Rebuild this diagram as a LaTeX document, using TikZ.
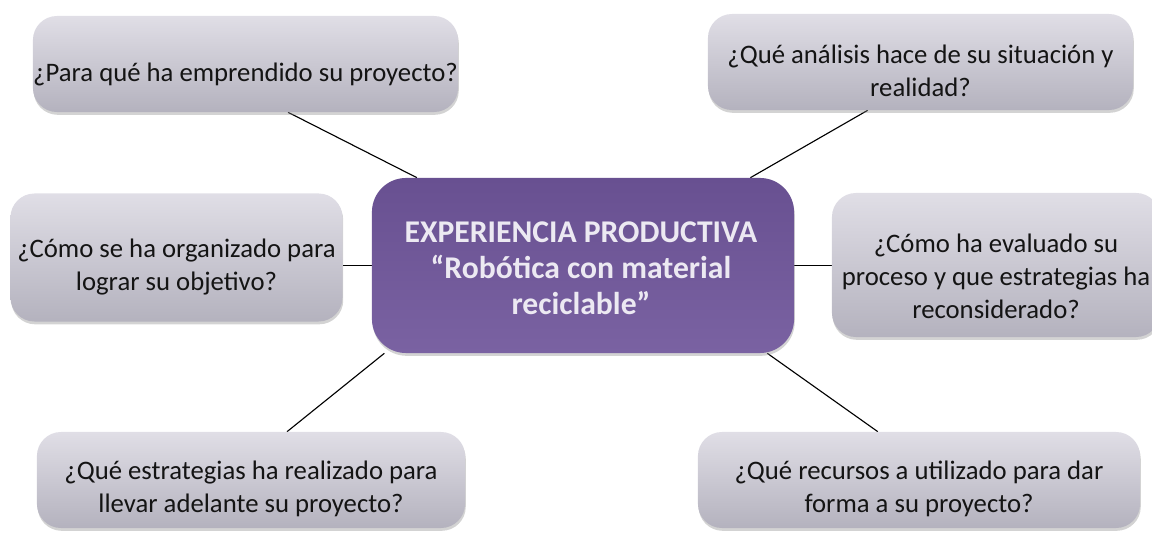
\documentclass[tikz,border=0pt]{standalone}
\usepackage{fontspec}
\setmainfont{Carlito}
\usetikzlibrary{calc, shadows, backgrounds}
\definecolor{grisclaro}{RGB}{224, 222, 230}
\definecolor{grisoscuro}{RGB}{180, 178, 190}
\definecolor{moradoarriba}{RGB}{104, 80, 145}
\definecolor{moradoabajo}{RGB}{122, 98, 162}
\definecolor{textoclaro}{RGB}{236, 233, 242}
\definecolor{textooscuro}{RGB}{20, 20, 20}

\begin{document}
\begin{tikzpicture}[
                x=0.025cm, y=-0.025cm,
                caja/.style={rounded corners=0.6cm, top color=grisclaro, bottom color=grisoscuro, inner sep=0pt, drop shadow={opacity=0.35, shadow xshift=0.5pt, shadow yshift=-2pt}},
                preg/.style={align=center, inner sep=0pt, text=textooscuro, font=\fontsize{19}{23.5}\selectfont},
                temacaja/.style={rounded corners=0.85cm, top color=moradoarriba, bottom color=moradoabajo, inner sep=0pt, drop shadow={opacity=0.35, shadow xshift=0.5pt, shadow yshift=-2pt}},
                tematexto/.style={align=center, inner sep=0pt, text=textoclaro, font=\bfseries\fontsize{22.5}{25.6}\selectfont},
                enlace/.style={line width=0.8pt, black}
            ]
                \useasboundingbox (0,0) rectangle (1152,536);
                \clip (0,0) rectangle (1152,536);

                % Tema central
                \node[temacaja, minimum width=10.55cm, minimum height=4.375cm] (centro) at (583,265.5) {};
                \node[tematexto] (centro-texto) at ($(centro.center)+(-2,3)$) {EXPERIENCIA PRODUCTIVA\\“Robótica con material\\reciclable”};

                % Cajas de preguntas
                \node[caja, minimum width=10.625cm, minimum height=2.4cm] (para) at (245.5,64) {};
                \node[caja, minimum width=10.625cm, minimum height=2.4cm] (analisis) at (920.5,62) {};
                \node[caja, minimum width=8.3cm, minimum height=3.2cm] (organizado) at (176.5,257.5) {};
                \node[caja, minimum width=8.2cm, minimum height=3.6cm] (evaluado) at (996,265) {};
                \node[caja, minimum width=10.7cm, minimum height=2.4cm] (estrategias) at (251,480) {};
                \node[caja, minimum width=11.05cm, minimum height=2.4cm] (recursos) at (919,480) {};

                % Textos de preguntas
                \node[preg] (para-texto) at ($(para.center)+(0,10)$) {¿Para qué ha emprendido su proyecto?};
                \node[preg] (analisis-texto) at ($(analisis.center)+(0,9)$) {¿Qué análisis hace de su situación y\\realidad?};
                \node[preg] (organizado-texto) at ($(organizado.center)+(0,10)$) {¿Cómo se ha organizado para\\lograr su objetivo?};
                \node[preg] (evaluado-texto) at ($(evaluado.center)+(0,11)$) {¿Cómo ha evaluado su\\proceso y que estrategias ha\\reconsiderado?};
                \node[preg] (estrategias-texto) at ($(estrategias.center)+(0,9)$) {¿Qué estrategias ha realizado para\\llevar adelante su proyecto?};
                \node[preg] (recursos-texto) at ($(recursos.center)+(0,9)$) {¿Qué recursos a utilizado para dar\\forma a su proyecto?};

                % Conexiones
                \begin{scope}[on background layer]
                    \draw[enlace] ($(centro.north west)!0.107!(centro.north east)$) -- ($(para.south west)!0.6!(para.south east)$);
                    \draw[enlace] ($(centro.north west)!0.896!(centro.north east)$) -- ($(analisis.south west)!0.376!(analisis.south east)$);
                    \draw[enlace] (centro.west) -- (centro.west -| organizado.east);
                    \draw[enlace] (centro.east) -- (centro.east -| evaluado.west);
                    \draw[enlace] ($(centro.south west)!0.03!(centro.south east)$) -- ($(estrategias.north west)!0.584!(estrategias.north east)$);
                    \draw[enlace] ($(centro.south west)!0.936!(centro.south east)$) -- ($(recursos.north west)!0.407!(recursos.north east)$);
                \end{scope}
            \end{tikzpicture}
\end{document}
